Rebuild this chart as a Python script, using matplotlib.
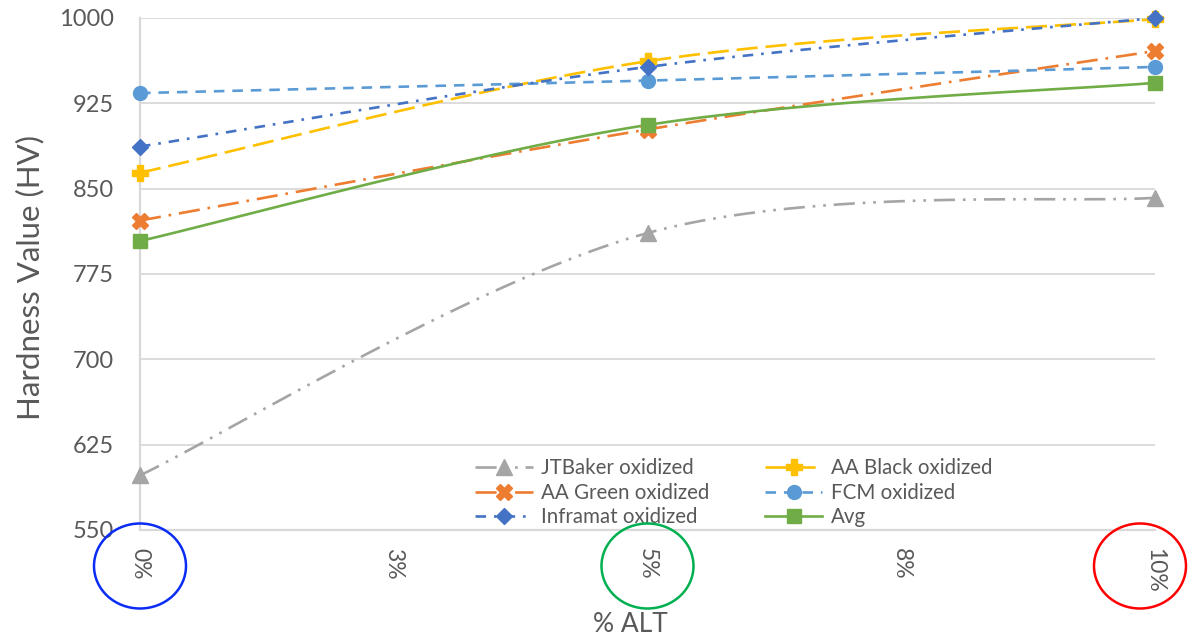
import numpy as np
import matplotlib
matplotlib.use("Agg")
import matplotlib.pyplot as plt
from matplotlib.patches import Ellipse
from matplotlib.lines import Line2D

plt.rcParams['font.family'] = ['Lato', 'DejaVu Sans']

# ---- data ----
x_vals = [0.0, 0.05, 0.10]
x_ticks = [0.0, 0.025, 0.05, 0.075, 0.10]
x_tick_labels = ["0%", "3%", "5%", "8%", "10%"]
y_ticks = [550, 625, 700, 775, 850, 925, 1000]

jtbaker = [598, 811, 842]
aa_black = [864, 962, 999]
aa_green = [822, 902, 971]
fcm = [934, 945, 957]
inframat = [887, 957, 1000]
avg = [804, 906, 943]

series = [
    ("JTBaker oxidized", jtbaker, "#A5A5A5", "^", (8, 3, 1, 3, 1, 3), 11),
    ("AA Black oxidized", aa_black, "#FFC000", "P", (8, 3), 11),
    ("AA Green oxidized", aa_green, "#ED7D31", "X", (8, 3, 1, 3), 11),
    ("FCM oxidized", fcm, "#5B9BD5", "o", (4, 3), 10),
    ("Inframat oxidized", inframat, "#4472C4", "D", (4, 3, 1, 3), 8),
    ("Avg", avg, "#70AD47", "s", None, 10),
]


def smooth(xs, ys, n=60):
    """Excel-style (Catmull-Rom Bezier) smoothing for drawing the line."""
    P = np.column_stack([xs, ys]).astype(float)
    pts = np.vstack([P[0], P, P[-1]])
    out = []
    t = np.linspace(0, 1, n)[:, None]
    for i in range(1, len(pts) - 2):
        p0, p1, p2, p3 = pts[i - 1], pts[i], pts[i + 1], pts[i + 2]
        c1 = p1 + (p2 - p0) / 6.0
        c2 = p2 - (p3 - p1) / 6.0
        seg = ((1 - t) ** 3) * p1 + 3 * ((1 - t) ** 2) * t * c1 + 3 * (1 - t) * t ** 2 * c2 + t ** 3 * p2
        out.append(seg if i == 1 else seg[1:])
    out = np.vstack(out)
    return out[:, 0], out[:, 1]


fig = plt.figure(figsize=(11.96, 6.42), dpi=100)
L, R, T, B = 140, 1155, 18, 530
ax = fig.add_axes([L / 1196, 1 - B / 642, (R - L) / 1196, (B - T) / 642])

text_col = "#595959"
grid_col = "#D9D9D9"

handles = []
for name, ys, col, mk, dash, ms in series:
    sx, sy = smooth(x_vals, ys)
    ln, = ax.plot(sx, sy, color=col, lw=1.9, clip_on=False, zorder=3)
    if dash is not None:
        ln.set_dashes(dash)
    ax.plot(x_vals, ys, linestyle="none", marker=mk, markersize=ms, color=col,
            markeredgecolor=col, clip_on=False, zorder=4)
    h = Line2D([], [], color=col, lw=1.9, marker=mk, markersize=ms, markeredgecolor=col)
    if dash is not None:
        h.set_dashes(dash)
    handles.append((h, name))

ax.set_xlim(0, 0.10)
ax.set_ylim(550, 1000)
ax.set_yticks(y_ticks)
ax.set_xticks(x_ticks)
ax.set_xticklabels(x_tick_labels, rotation=-90)
ax.tick_params(axis="y", length=0, pad=19, labelsize=17, labelcolor=text_col)
ax.tick_params(axis="x", length=0, pad=13, labelsize=16.5, labelcolor=text_col)
ax.grid(axis="y", color=grid_col, lw=1.3)
ax.set_axisbelow(True)
for s in ["top", "right"]:
    ax.spines[s].set_visible(False)
for s in ["left", "bottom"]:
    ax.spines[s].set_color(grid_col)
    ax.spines[s].set_linewidth(1.6)

fig.text(30 / 1196, 1 - 277 / 642, "Hardness Value (HV)", rotation=90, ha="center",
         va="center", fontsize=22.5, color=text_col)
fig.text(630 / 1196, 1 - 625 / 642, "% ALT", ha="center", va="center",
         fontsize=19, color=text_col)

# Excel legend is filled row by row: reorder for matplotlib's column filling
order = [0, 2, 4, 1, 3, 5]
leg = ax.legend([handles[i][0] for i in order], [handles[i][1] for i in order],
                ncol=2, loc="upper left", bbox_to_anchor=(465 / 1196, 1 - 448 / 642),
                bbox_transform=fig.transFigure, frameon=False, fontsize=14.8,
                handlelength=2.8, handletextpad=0.4, columnspacing=2.7,
                labelspacing=0.22, borderpad=0)
for t in leg.get_texts():
    t.set_color(text_col)

# highlight circles around 0%, 5%, 10% tick labels
fig.canvas.draw()
circle_specs = [(0.0, "#0A2CF5"), (0.05, "#00B050"), (0.10, "#FF0000")]
for xv, col in circle_specs:
    px = ax.transData.transform((xv, 550))[0]
    if xv == 0.10:
        px -= 15
    e = Ellipse((px / 1196, 1 - 566 / 642), 92 / 1196, 85 / 642,
                transform=fig.transFigure, fill=False, edgecolor=col, lw=1.8)
    fig.add_artist(e)

fig.savefig("out.png", dpi=100)
